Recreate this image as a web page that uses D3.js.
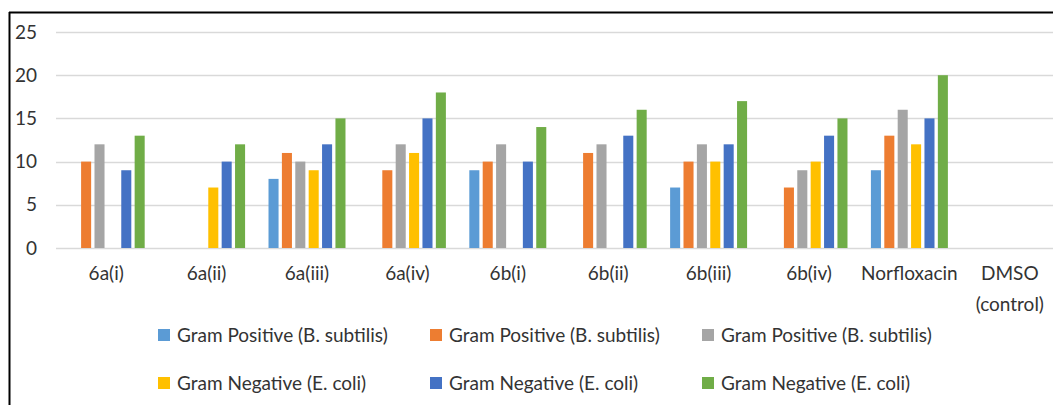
<!DOCTYPE html>
<html>
<head>
<meta charset="utf-8">
<script src="https://cdn.jsdelivr.net/npm/d3@7"></script>
<style>
  html, body { margin: 0; padding: 0; background: #fff; }
  svg { display: block; }
  text { font-family: Lato, "Open Sans", sans-serif; fill: #333333; }
</style>
</head>
<body>
<svg id="chart" width="1053" height="405"></svg>
<script>
const categories = ["6a(i)", "6a(ii)", "6a(iii)", "6a(iv)", "6b(i)", "6b(ii)", "6b(iii)", "6b(iv)", "Norfloxacin", "DMSO\n(control)"];
const seriesNames = ["Gram Positive (B. subtilis)", "Gram Positive (B. subtilis)", "Gram Positive (B. subtilis)",
                     "Gram Negative (E. coli)", "Gram Negative (E. coli)", "Gram Negative (E. coli)"];
const seriesColors = ["#5B9BD5", "#ED7D31", "#A5A5A5", "#FFC000", "#4472C4", "#70AD47"];
const posSeries1 = [0, 0, 8, 0, 9, 0, 7, 0, 9, 0];
const posSeries2 = [10, 0, 11, 9, 10, 11, 10, 7, 13, 0];
const posSeries3 = [12, 0, 10, 12, 12, 12, 12, 9, 16, 0];
const negSeries1 = [0, 7, 9, 11, 0, 0, 10, 10, 12, 0];
const negSeries2 = [9, 10, 12, 15, 10, 13, 12, 13, 15, 0];
const negSeries3 = [13, 12, 15, 18, 14, 16, 17, 15, 20, 0];
const yTicks = [0, 5, 10, 15, 20, 25];

const seriesValues = [posSeries1, posSeries2, posSeries3, negSeries1, negSeries2, negSeries3];
const fontSize = 19;

const svg = d3.select("#chart");

// outer chart border (top and left edges visible)
svg.append("line").attr("x1", 9).attr("x2", 1053).attr("y1", 12.5).attr("y2", 12.5)
  .attr("stroke", "#000").attr("stroke-width", 2);
svg.append("line").attr("x1", 9.5).attr("x2", 9.5).attr("y1", 12).attr("y2", 405)
  .attr("stroke", "#000").attr("stroke-width", 2);

const plotLeft = 56, plotRight = 1060, plotTop = 32, plotBottom = 248;

const x0 = d3.scaleBand().domain(categories).range([plotLeft, plotRight]).paddingInner(0.2).paddingOuter(0.1);
const x1 = d3.scaleBand().domain(d3.range(seriesValues.length)).range([0, x0.bandwidth()]).paddingInner(0.25).paddingOuter(0.125);
const y = d3.scaleLinear().domain([0, 25]).range([plotBottom, plotTop]);

// gridlines
svg.append("g").selectAll("line").data(yTicks).join("line")
  .attr("x1", plotLeft).attr("x2", 1053)
  .attr("y1", d => Math.round(y(d)) + 0.5).attr("y2", d => Math.round(y(d)) + 0.5)
  .attr("stroke", "#D9D9D9").attr("stroke-width", 1.5);

// y tick labels
svg.append("g").selectAll("text").data(yTicks).join("text")
  .attr("x", 37).attr("y", d => y(d)).attr("dy", "0.35em")
  .attr("text-anchor", "end").style("font-size", fontSize + "px")
  .text(d => d);

// bars
const groups = svg.append("g").selectAll("g").data(categories).join("g")
  .attr("transform", d => `translate(${x0(d)},0)`);
groups.selectAll("rect").data((d, i) => seriesValues.map((vals, s) => ({ s, v: vals[i] })))
  .join("rect")
  .attr("x", d => x1(d.s)).attr("width", x1.bandwidth())
  .attr("y", d => y(d.v)).attr("height", d => y(0) - y(d.v))
  .attr("fill", d => seriesColors[d.s]);

// category labels
const catLabels = svg.append("g").selectAll("text").data(categories).join("text")
  .attr("x", d => x0(d) + x0.bandwidth() / 2).attr("y", 280)
  .attr("text-anchor", "middle").style("font-size", fontSize + "px");
catLabels.each(function(d) {
  const lines = d.split("\n");
  d3.select(this).selectAll("tspan").data(lines).join("tspan")
    .attr("x", x0(d) + x0.bandwidth() / 2)
    .attr("dy", (l, i) => i === 0 ? 0 : 31)
    .text(l => l);
});

// legend
const legendX = [158, 430, 702];
const legendY = [335, 383];
const legend = svg.append("g").selectAll("g").data(seriesNames).join("g")
  .attr("transform", (d, i) => `translate(${legendX[i % 3]},${legendY[Math.floor(i / 3)]})`);
legend.append("rect").attr("x", 0).attr("y", -6).attr("width", 12).attr("height", 12)
  .attr("fill", (d, i) => seriesColors[i]);
legend.append("text").attr("x", 19).attr("y", 0).attr("dy", "0.35em")
  .style("font-size", fontSize + "px").text(d => d);
</script>
</body>
</html>
